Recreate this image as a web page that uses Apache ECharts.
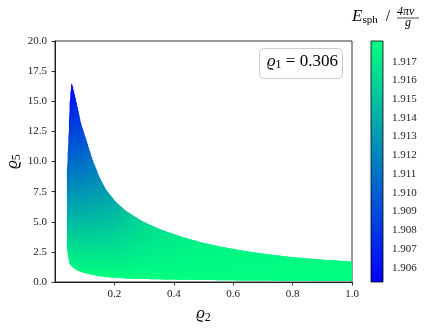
<!DOCTYPE html>
<html>
<head>
<meta charset="utf-8">
<script src="https://cdn.jsdelivr.net/npm/echarts@6/dist/echarts.min.js"></script>
<style>
  html, body { margin: 0; padding: 0; background: #fff; }
  #chart { width: 426px; height: 328px; }
</style>
</head>
<body>
<div id="chart"></div>
<script>
// region boundaries, column by column
var rho2 = [0.040, 0.045, 0.049, 0.054, 0.07, 0.084, 0.101, 0.124, 0.145, 0.168, 0.2, 0.236, 0.293, 0.354, 0.42, 0.488, 0.556, 0.623, 0.69, 0.758, 0.8, 0.9, 1.0];
var rho5Upper = [9.3, 12.06, 14.85, 16.5, 14.85, 13.2, 11.9, 10.1, 8.8, 7.7, 6.7, 5.9, 5.02, 4.35, 3.78, 3.3, 2.93, 2.63, 2.38, 2.17, 2.05, 1.85, 1.69];
var rho5Lower = [2.66, 1.83, 1.5, 1.3, 1.0, 0.86, 0.72, 0.6, 0.5, 0.42, 0.35, 0.3, 0.25, 0.22, 0.19, 0.17, 0.15, 0.13, 0.12, 0.11, 0.1, 0.09, 0.08];
var eUpper = [1.91080, 1.90790, 1.90620, 1.90530, 1.90710, 1.90815, 1.90945, 1.91110, 1.91210, 1.91300, 1.91400, 1.91501, 1.91604, 1.91669, 1.91720, 1.91746, 1.91759, 1.91771, 1.91778, 1.91784, 1.91791, 1.91797, 1.91797];
var eLower = [1.9172, 1.9175, 1.9176, 1.9177, 1.9178, 1.9179, 1.9180, 1.9180, 1.9181, 1.9181, 1.9181, 1.9181, 1.9181, 1.9181, 1.9181, 1.9181, 1.9181, 1.9181, 1.9181, 1.9181, 1.9181, 1.9181, 1.9181];

var xTicks = [0.2, 0.4, 0.6, 0.8, 1.0];
var cbMin = 1.90524, cbMax = 1.9181;
var cbTicks = [1.906, 1.907, 1.908, 1.909, 1.910, 1.911, 1.912, 1.913, 1.914, 1.915, 1.916, 1.917];

var serif = "'Liberation Serif', 'DejaVu Serif', serif";

// matplotlib "winter"
function winter(e) {
    var t = (e - cbMin) / (cbMax - cbMin);
    t = Math.max(0, Math.min(1, t));
    return 'rgb(0,' + Math.round(255 * t) + ',' + Math.round(255 * (1 - 0.5 * t)) + ')';
}

function lerp(a, b, f) { return a + (b - a) * f; }

var chart = echarts.init(document.getElementById('chart'));

var regionData = rho2.map(function (x, i) {
    return [x, rho5Lower[i], rho5Upper[i]];
});

// one strip between column i and i+1, shaded in thin slices so the
// colour blends smoothly from one column to the next
function renderStrip(params, api) {
    var i = params.dataIndex;
    if (i >= rho2.length - 1) return null;
    var xa = api.coord([rho2[i], 0])[0];
    var xb = api.coord([rho2[i + 1], 0])[0];
    var n = Math.max(1, Math.ceil(xb - xa));
    var last = i === rho2.length - 2;
    var children = [];
    for (var k = 0; k < n; k++) {
        var f0 = k / n, f1 = (k + 1) / n, fm = (k + 0.5) / n;
        var x0 = lerp(rho2[i], rho2[i + 1], f0);
        var x1 = lerp(rho2[i], rho2[i + 1], f1);
        var p0 = api.coord([x0, lerp(rho5Lower[i], rho5Lower[i + 1], f0)]);
        var p1 = api.coord([x0, lerp(rho5Upper[i], rho5Upper[i + 1], f0)]);
        var p2 = api.coord([x1, lerp(rho5Upper[i], rho5Upper[i + 1], f1)]);
        var p3 = api.coord([x1, lerp(rho5Lower[i], rho5Lower[i + 1], f1)]);
        if (!(last && k === n - 1)) { p2[0] += 1.2; p3[0] += 1.2; }
        var yTop = api.coord([0, lerp(rho5Upper[i], rho5Upper[i + 1], fm)])[1];
        var yBot = api.coord([0, lerp(rho5Lower[i], rho5Lower[i + 1], fm)])[1];
        children.push({
            type: 'polygon',
            shape: { points: [p0, p1, p2, p3] },
            style: {
                fill: {
                    type: 'linear', x: 0, y: yTop, x2: 0, y2: yBot, global: true,
                    colorStops: [
                        { offset: 0, color: winter(lerp(eUpper[i], eUpper[i + 1], fm)) },
                        { offset: 1, color: winter(lerp(eLower[i], eLower[i + 1], fm)) }
                    ]
                }
            }
        });
    }
    return { type: 'group', children: children };
}

function renderColorbar(params, api) {
    var a = api.coord([0, cbMax]);
    var b = api.coord([1, cbMin]);
    return {
        type: 'rect',
        shape: { x: a[0], y: a[1], width: b[0] - a[0], height: b[1] - a[1] },
        style: {
            fill: {
                type: 'linear', x: 0, y: 0, x2: 0, y2: 1,
                colorStops: [
                    { offset: 0, color: winter(cbMax) },
                    { offset: 1, color: winter(cbMin) }
                ]
            },
            stroke: '#000', lineWidth: 0.8
        }
    };
}

var nameRich = {
    i: { fontFamily: serif, fontStyle: 'italic', fontSize: 17, color: '#000' },
    s: { fontFamily: serif, fontSize: 12, color: '#000', padding: [8, 0, 0, 0] }
};

var option = {
    animation: false,
    backgroundColor: '#fff',
    grid: [
        { left: 55, right: 74, top: 41, bottom: 46, show: true, borderColor: '#000', borderWidth: 0.8, backgroundColor: 'transparent', outerBoundsMode: 'none', containLabel: false },
        { left: 371, width: 12, top: 41, height: 241, outerBoundsMode: 'none', containLabel: false }
    ],
    xAxis: [
        {
            type: 'value', gridIndex: 0, min: 0, max: 1,
            name: '{i|ϱ}{s|2}', nameLocation: 'middle', nameGap: 22,
            nameTextStyle: { rich: nameRich },
            axisLine: { show: true, lineStyle: { color: '#000', width: 0.8 } },
            axisTick: { show: true, length: 3.5, customValues: xTicks, lineStyle: { color: '#000', width: 0.8 } },
            axisLabel: {
                customValues: xTicks, fontFamily: serif, fontSize: 11, color: '#222', margin: 7,
                formatter: function (v) { return v.toFixed(1); }
            },
            splitLine: { show: false }
        },
        { type: 'value', gridIndex: 1, min: 0, max: 1, show: false }
    ],
    yAxis: [
        {
            type: 'value', gridIndex: 0, min: 0, max: 20, interval: 2.5,
            name: '{i|ϱ}{s|5}', nameLocation: 'middle', nameGap: 32, nameRotate: 90,
            nameMoveOverlap: false,
            nameTextStyle: { rich: nameRich },
            axisLine: { show: true, lineStyle: { color: '#000', width: 0.8 } },
            axisTick: { show: true, length: 3.5, lineStyle: { color: '#000', width: 0.8 } },
            axisLabel: {
                fontFamily: serif, fontSize: 11, color: '#222', margin: 8,
                formatter: function (v) { return v.toFixed(1); }
            },
            splitLine: { show: false }
        },
        {
            type: 'value', gridIndex: 1, min: cbMin, max: cbMax, position: 'right',
            axisLine: { show: false },
            axisTick: { show: true, length: 3.5, customValues: cbTicks, lineStyle: { color: '#000', width: 0.8 } },
            axisLabel: {
                customValues: cbTicks, fontFamily: serif, fontSize: 11, color: '#222', margin: 9,
                formatter: function (v) { return v.toFixed(3); }
            },
            splitLine: { show: false }
        }
    ],
    series: [
        {
            type: 'custom', xAxisIndex: 0, yAxisIndex: 0,
            data: regionData, encode: { x: 0, y: [1, 2] },
            renderItem: renderStrip, clip: true, silent: true
        },
        {
            type: 'custom', xAxisIndex: 1, yAxisIndex: 1,
            data: [[0, cbMin], [1, cbMax]], encode: { x: 0, y: 1 },
            renderItem: function (params, api) {
                return params.dataIndex === 0 ? renderColorbar(params, api) : null;
            },
            silent: true
        }
    ],
    graphic: [
        // legend box
        {
            type: 'rect', left: 259, top: 48, z: 100,
            shape: { width: 83, height: 30, r: 4 },
            style: { fill: 'rgba(255,255,255,0.85)', stroke: '#cccccc', lineWidth: 1 }
        },
        {
            type: 'text', left: 267, top: 53, z: 101,
            style: {
                text: '{i|ϱ}{s|1}{t| = 0.306}',
                rich: {
                    i: { fontFamily: serif, fontStyle: 'italic', fontSize: 17, fill: '#000' },
                    s: { fontFamily: serif, fontSize: 12, fill: '#000', padding: [7, 0, 0, 0] },
                    t: { fontFamily: serif, fontSize: 17, fill: '#000' }
                }
            }
        },
        // colorbar label: E_sph / (4πv / g)
        {
            type: 'text', left: 352, top: 8, z: 101,
            style: {
                text: '{e|E}{s|sph}{d|  / }',
                rich: {
                    e: { fontFamily: serif, fontStyle: 'italic', fontSize: 17, fill: '#000' },
                    s: { fontFamily: serif, fontSize: 11, fill: '#000', padding: [7, 0, 0, 0] },
                    d: { fontFamily: serif, fontSize: 16, fill: '#000' }
                }
            }
        },
        {
            type: 'text', left: 397, top: 6, z: 101,
            style: { text: '4πv', font: 'italic 12px ' + serif, fill: '#000' }
        },
        {
            type: 'line', z: 101,
            shape: { x1: 397, y1: 18, x2: 419, y2: 18 },
            style: { stroke: '#000', lineWidth: 0.7 }
        },
        {
            type: 'text', left: 405, top: 17, z: 101,
            style: { text: 'g', font: 'italic 12px ' + serif, fill: '#000' }
        }
    ]
};

chart.setOption(option);
</script>
</body>
</html>
